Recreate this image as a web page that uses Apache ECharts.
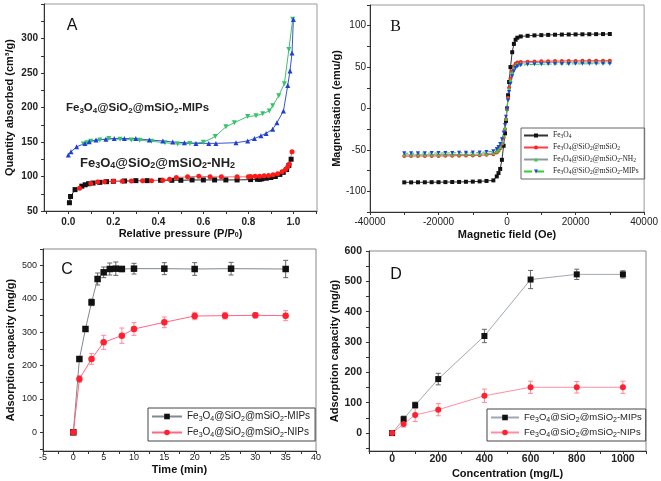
<!DOCTYPE html>
<html><head><meta charset="utf-8">
<script src="https://cdn.jsdelivr.net/npm/echarts@6/dist/echarts.min.js"></script>
<style>html,body{margin:0;padding:0;background:#fff}#c{width:661px;height:481px}</style>
</head><body><div id="c"></div><script>
// ---------------- Panel A: N2 adsorption–desorption ----------------
const aNH2Ads = [[0.005,62],[0.01,71],[0.03,81],[0.06,86],[0.075,88],[0.09,89.5],[0.11,90.5],[0.14,91.5],[0.17,92.5],[0.2,93],[0.25,93.5],[0.3,94],[0.35,94],[0.41,94.5],[0.46,94.5],[0.5,94.5],[0.55,95],[0.6,95],[0.65,95],[0.7,95],[0.75,95],[0.81,95.5],[0.84,96],[0.85,96],[0.86,96.5],[0.88,97.5],[0.9,98.5],[0.92,100],[0.94,103],[0.955,106],[0.97,110],[0.98,116],[0.99,125]];
const aNH2Des = [[0.05,83],[0.1,90],[0.13,92],[0.16,92.5],[0.2,93],[0.24,93],[0.28,93.5],[0.33,94],[0.37,94],[0.42,94.5],[0.45,96],[0.48,98.5],[0.53,99.5],[0.58,100.5],[0.63,99.5],[0.68,99.5],[0.75,99.5],[0.8,99.5],[0.81,100],[0.83,100.5],[0.85,100.5],[0.87,101],[0.89,101.5],[0.91,102.5],[0.93,104],[0.95,107],[0.965,110],[0.975,114],[0.982,118],[0.994,136]];
const aMIPsAds = [[0,131],[0.012,136],[0.037,143],[0.074,148],[0.093,150.5],[0.123,153],[0.167,154],[0.204,155],[0.249,155],[0.3,155],[0.36,153],[0.42,151.5],[0.464,150],[0.516,149],[0.567,148],[0.624,148],[0.656,148],[0.745,149],[0.797,151.5],[0.827,155],[0.856,159],[0.879,162.5],[0.908,168.5],[0.927,178],[0.956,195],[0.975,232],[0.985,253],[0.994,279],[1.0,327.5]];
const aMIPsDes = [[0.067,147],[0.083,149],[0.1,151],[0.14,153],[0.18,155],[0.23,154],[0.28,153],[0.317,152.5],[0.37,151],[0.43,149],[0.486,147],[0.54,148],[0.6,149.5],[0.653,158],[0.7,172],[0.738,178],[0.797,187],[0.834,188],[0.864,191],[0.893,195],[0.908,202.5],[0.935,217],[0.96,234.5],[0.98,284],[0.997,328]];
const aXTicks = [-0.1,0,0.1,0.2,0.3,0.4,0.5,0.6,0.7,0.8,0.9,1.0,1.1];
const aXLabels = [0,0.2,0.4,0.6,0.8,1.0];
const aYTicks = [50,75,100,125,150,175,200,225,250,275,300,325,350];
const aYLabels = [50,100,150,200,250,300];

// ---------------- Panel B: magnetic hysteresis ----------------
const bField = [-30000,-28000,-26000,-24000,-22000,-20000,-18000,-16000,-14000,-12000,-10000,-8000,-6000,-4000,
  -3000,-2500,-2000,-1500,-1000,-600,-300,0,300,600,1000,1500,2000,2500,3000,
  4000,6000,8000,10000,12000,14000,16000,18000,20000,22000,24000,26000,28000,30000];
const bFe3O4 = [-89.2,-89.2,-89.1,-89.1,-89,-89,-88.9,-88.8,-88.7,-88.5,-88.3,-88,-87.5,-86.8,
  -82,-78,-73,-62,-45,-30,-15,0,16,32,50,68,78,83,85.5,
  87,87.8,88.3,88.6,88.9,89.1,89.3,89.4,89.5,89.6,89.7,89.8,89.9,90];
const bMSiO2 = [-57.5,-57.5,-57.4,-57.4,-57.3,-57.3,-57.2,-57.1,-57,-56.9,-56.7,-56.5,-56,-55.2,
  -53,-51,-48,-43,-35,-25,-13,0,13,25,36,45,51,54,55.5,
  56.2,56.6,56.9,57.1,57.2,57.3,57.4,57.5,57.5,57.6,57.6,57.7,57.7,57.8];
const bNH2 = [-56,-56,-55.9,-55.9,-55.8,-55.8,-55.7,-55.6,-55.5,-55.4,-55.2,-55,-54.5,-53.7,
  -51.5,-49.5,-46.5,-41.5,-33.5,-24,-12.5,0,12.5,24,34.5,43.5,49.5,52.5,54,
  54.7,55.1,55.4,55.6,55.7,55.8,55.9,56,56,56.1,56.1,56.2,56.2,56.3];
const bMIPs = [-54,-54,-53.9,-53.9,-53.8,-53.8,-53.7,-53.6,-53.5,-53.4,-53.2,-53,-52.5,-51.5,
  -49,-46.5,-43,-37,-29,-20,-10,0,10,20,30,39,45,49,51,
  52.3,53,53.3,53.5,53.6,53.7,53.8,53.8,53.9,53.9,54,54,54,54.1];
const bXTicks = [-40000,-30000,-20000,-10000,0,10000,20000,30000,40000];
const bXLabels = [-40000,-20000,0,20000,40000];
const bYTicks = [-125,-100,-75,-50,-25,0,25,50,75,100,125];
const bYLabels = [-100,-50,0,50,100];

// ---------------- Panel C: adsorption kinetics ----------------
const cTimeMIPs = [0,1,2,3,4,5,6,7,8,10,15,20,26,35];
const cMIPs     = [0,220,310,390,460,480,490,491,490,491,491,490,491,490];
const cMIPsErr  = [0,7,7,10,18,16,18,20,8,16,18,19,19,26];
const cTimeNIPs = [0,1,3,5,8,10,15,20,25,30,35];
const cNIPs     = [0,160,220,270,290,310,330,349,350,351,350];
const cNIPsErr  = [0,10,16,21,23,19,16,11,10,8,15];
const cXTicks = [-5,-2.5,0,2.5,5,7.5,10,12.5,15,17.5,20,22.5,25,27.5,30,32.5,35,37.5,40];
const cXLabels = [-5,0,5,10,15,20,25,30,35,40];
const cYTicks = [-50,0,50,100,150,200,250,300,350,400,450,500,550];
const cYLabels = [0,100,200,300,400,500];

// ---------------- Panel D: adsorption isotherm ----------------
const dConc     = [0,50,100,200,400,600,800,1000];
const dMIPs     = [0,46,92,178,320,506,523,523];
const dMIPsErr  = [0,10,10,19,22,30,17,12];
const dNIPs     = [0,30,60,77,123,151,151,151];
const dNIPsErr  = [0,10,22,20,22,20,19,20];
const dXTicks = [-100,0,100,200,300,400,500,600,700,800,900,1000,1100];
const dXLabels = [0,200,400,600,800,1000];
const dYTicks = [-50,0,50,100,150,200,250,300,350,400,450,500,550,600];
const dYLabels = [0,100,200,300,400,500,600];

// ---------------- helpers ----------------
const SANS = '"Liberation Sans", Arial, sans-serif';
const SERIF = '"Liberation Serif", "Times New Roman", serif';
const sub = s => s.replace(/([A-Za-z])(\d)/g, '$1{s|$2}');
const zip = (xs, ys) => xs.map((x, i) => [x, ys[i]]);
const errData = (xs, ys, es) => xs.map((x, i) => [x, ys[i] - es[i], ys[i] + es[i]]);
const plain = v => String(v);

function axis(gi, min, max, ticks, labels, name, o) {
  return {
    type: 'value', gridIndex: gi, min: min, max: max, name: name,
    nameLocation: 'middle', nameGap: o.gap,
    nameTextStyle: {fontFamily: SANS, fontSize: 11, fontWeight: 'bold', color: '#111',
      rich: {s: {fontFamily: SANS, fontSize: 7, fontWeight: 'bold', color: '#111', verticalAlign: 'bottom', lineHeight: 8}}},
    axisLine: {show: true, onZero: false, lineStyle: {color: '#333', width: 1}},
    axisTick: {show: true, inside: false, length: 3, customValues: ticks, lineStyle: {color: '#333'}},
    axisLabel: {show: true, customValues: labels, margin: o.margin, fontFamily: SANS,
      fontSize: o.fs, fontWeight: o.fw, color: '#222', formatter: o.fmt || plain},
    splitLine: {show: false}
  };
}
function errSeries(xi, data, color, w) {
  return {
    type: 'custom', xAxisIndex: xi, yAxisIndex: xi, data: data, z: 1, silent: true,
    encode: {x: 0, y: [1, 2]},
    renderItem: function (params, api) {
      const x = api.value(0);
      const p1 = api.coord([x, api.value(2)]);
      const p2 = api.coord([x, api.value(1)]);
      const st = {stroke: color, lineWidth: 1};
      return {type: 'group', children: [
        {type: 'line', shape: {x1: p1[0], y1: p1[1], x2: p2[0], y2: p2[1]}, style: st},
        {type: 'line', shape: {x1: p1[0] - w, y1: p1[1], x2: p1[0] + w, y2: p1[1]}, style: st},
        {type: 'line', shape: {x1: p2[0] - w, y1: p2[1], x2: p2[0] + w, y2: p2[1]}, style: st}
      ]};
    }
  };
}
function line(xi, name, data, o) {
  return {
    type: 'line', name: name, xAxisIndex: xi, yAxisIndex: xi, data: data, z: 3,
    symbol: o.symbol, symbolSize: o.size, symbolRotate: o.rot || 0, showSymbol: true,
    itemStyle: {color: o.mc}, lineStyle: {color: o.lc, width: o.lw || 1, type: o.dash ? 'dashed' : 'solid'},
    emphasis: {disabled: true}
  };
}

const names = {
  cM: 'Fe3O4@SiO2@mSiO2-MIPs', cN: 'Fe3O4@SiO2@mSiO2-NIPs',
  dM: 'Fe3O4@SiO2@mSiO2-MIPs', dN: 'Fe3O4@SiO2@mSiO2-NIPs'
};

const chart = echarts.init(document.getElementById('c'), null, {renderer: 'canvas'});
chart.setOption({
  animation: false,
  backgroundColor: '#fff',
  grid: [
    {left: 44, top: 4, width: 273, height: 207, show: true, borderColor: '#999', borderWidth: 1},
    {left: 370, top: 5, width: 276, height: 207, show: true, borderColor: '#999', borderWidth: 1},
    {left: 43, top: 249, width: 273, height: 202, show: true, borderColor: '#888', borderWidth: 1},
    {left: 369, top: 251, width: 277, height: 200, show: true, borderColor: '#888', borderWidth: 1}
  ],
  xAxis: [
    axis(0, -0.108, 1.105, aXTicks, aXLabels, 'Relative pressure (P/P{s|0})', {gap: 17, margin: 6, fs: 10, fw: 'bold', fmt: v => v.toFixed(1)}),
    axis(1, -40000, 40000, bXTicks, bXLabels, 'Magnetic field (Oe)', {gap: 17, margin: 5, fs: 10, fw: 'normal'}),
    axis(2, -5, 40, cXTicks, cXLabels, 'Time (min)', {gap: 13, margin: 2, fs: 9, fw: 'normal'}),
    axis(3, -100, 1100, dXTicks, dXLabels, 'Concentration (mg/L)', {gap: 17, margin: 3, fs: 10.5, fw: 'bold'})
  ],
  yAxis: [
    axis(0, 50, 350, aYTicks, aYLabels, 'Quantity absorbed (cm³/g)', {gap: 29, margin: 6, fs: 10, fw: 'bold'}),
    axis(1, -125, 125, bYTicks, bYLabels, 'Magnetisation (emu/g)', {gap: 27, margin: 4, fs: 10, fw: 'normal'}),
    axis(2, -56, 550, cYTicks, cYLabels, 'Adsorption capacity (mg/g)', {gap: 27, margin: 6, fs: 9, fw: 'normal'}),
    axis(3, -59, 600, dYTicks, dYLabels, 'Adsorption capacity (mg/g)', {gap: 26, margin: 7, fs: 10.5, fw: 'bold'})
  ],
  legend: [
    {
      show: true, left: 521, top: 128, orient: 'vertical', itemWidth: 24, itemHeight: 5, itemGap: 3,
      padding: [3, 6, 3, 2], borderColor: '#666', borderWidth: 1,
      data: ['Fe3O4', 'Fe3O4@SiO2@mSiO2', 'Fe3O4@SiO2@mSiO2-NH2', 'Fe3O4@SiO2@mSiO2-MIPs'],
      formatter: n => sub(n),
      textStyle: {fontFamily: SERIF, fontSize: 7.5, color: '#222', lineHeight: 9,
        rich: {s: {fontFamily: SERIF, fontSize: 5.5, color: '#222', verticalAlign: 'bottom', lineHeight: 6}}}
    },
    {
      show: true, left: 148, top: 408, orient: 'vertical', itemWidth: 30, itemHeight: 7, itemGap: 3,
      padding: [2, 5, 2, 3], borderColor: '#444', borderWidth: 1,
      data: ['cM', 'cN'], formatter: n => sub(names[n]),
      textStyle: {fontFamily: SANS, fontSize: 10, color: '#222', lineHeight: 13,
        rich: {s: {fontFamily: SANS, fontSize: 7, color: '#222', verticalAlign: 'bottom', lineHeight: 8}}}
    },
    {
      show: true, left: 487, top: 409, orient: 'vertical', itemWidth: 28, itemHeight: 7, itemGap: 2,
      padding: [2, 4, 2, 3], borderColor: '#444', borderWidth: 1,
      data: ['dM', 'dN'], formatter: n => sub(names[n]),
      textStyle: {fontFamily: SANS, fontSize: 9.5, color: '#222', lineHeight: 13,
        rich: {s: {fontFamily: SANS, fontSize: 7, color: '#222', verticalAlign: 'bottom', lineHeight: 8}}}
    }
  ],
  graphic: [
    {type: 'text', x: 72, y: 25.5, style: {text: 'A', font: '16px ' + SANS, fill: '#111', align: 'center', verticalAlign: 'middle'}},
    {type: 'text', x: 395.5, y: 26.5, style: {text: 'B', font: '16px ' + SERIF, fill: '#111', align: 'center', verticalAlign: 'middle'}},
    {type: 'text', x: 67, y: 270, style: {text: 'C', font: '16px ' + SANS, fill: '#111', align: 'center', verticalAlign: 'middle'}},
    {type: 'text', x: 396, y: 274.5, style: {text: 'D', font: '16px ' + SANS, fill: '#111', align: 'center', verticalAlign: 'middle'}},
    {type: 'text', x: 66, y: 108, style: {text: sub('Fe3O4@SiO2@mSiO2-MIPs'), font: 'bold 11.5px ' + SANS, fill: '#222',
      align: 'left', verticalAlign: 'middle', lineHeight: 14,
      rich: {s: {font: 'bold 8px ' + SANS, fontSize: 8, fontWeight: 'bold', fontFamily: SANS, fill: '#222', verticalAlign: 'bottom', lineHeight: 8}}}},
    {type: 'text', x: 80, y: 163, style: {text: sub('Fe3O4@SiO2@mSiO2-NH2'), font: 'bold 13px ' + SANS, fill: '#222',
      align: 'left', verticalAlign: 'middle', lineHeight: 15,
      rich: {s: {font: 'bold 9px ' + SANS, fontSize: 9, fontWeight: 'bold', fontFamily: SANS, fill: '#222', verticalAlign: 'bottom', lineHeight: 9}}}}
  ],
  series: [
    // A
    line(0, 'A-NH2-ads', aNH2Ads, {symbol: 'rect', size: 5, mc: '#111', lc: '#222'}),
    line(0, 'A-NH2-des', aNH2Des, {symbol: 'circle', size: 5, mc: '#ff1a1a', lc: '#ff6070'}),
    line(0, 'A-MIPs-des', aMIPsDes, {symbol: 'triangle', rot: 180, size: 5, mc: '#33c46a', lc: '#40c070'}),
    line(0, 'A-MIPs-ads', aMIPsAds, {symbol: 'triangle', size: 5, mc: '#1f3fd6', lc: '#3a55d0'}),
    // B
    line(1, 'Fe3O4', zip(bField, bFe3O4), {symbol: 'rect', size: 4, mc: '#111', lc: '#333'}),
    line(1, 'Fe3O4@SiO2@mSiO2', zip(bField, bMSiO2), {symbol: 'circle', size: 4, mc: '#ff2020', lc: '#ff4040'}),
    line(1, 'Fe3O4@SiO2@mSiO2-NH2', zip(bField, bNH2), {symbol: 'triangle', size: 4, mc: '#3ad040', lc: '#8a9aa0'}),
    line(1, 'Fe3O4@SiO2@mSiO2-MIPs', zip(bField, bMIPs), {symbol: 'triangle', rot: 180, size: 4, mc: '#2040e0', lc: '#30d030', dash: true}),
    // C
    errSeries(2, errData(cTimeMIPs, cMIPs, cMIPsErr), '#666', 2.5),
    errSeries(2, errData(cTimeNIPs, cNIPs, cNIPsErr), '#ff8899', 2.5),
    line(2, 'cM', zip(cTimeMIPs, cMIPs), {symbol: 'rect', size: 6.5, mc: '#111', lc: '#808890'}),
    line(2, 'cN', zip(cTimeNIPs, cNIPs), {symbol: 'circle', size: 6.5, mc: '#ff2030', lc: '#ff6680'}),
    // D
    errSeries(3, errData(dConc, dMIPs, dMIPsErr), '#666', 2.5),
    errSeries(3, errData(dConc, dNIPs, dNIPsErr), '#ff8899', 2.5),
    line(3, 'dM', zip(dConc, dMIPs), {symbol: 'rect', size: 6, mc: '#111', lc: '#a0a8b0'}),
    line(3, 'dN', zip(dConc, dNIPs), {symbol: 'circle', size: 6, mc: '#ff2030', lc: '#ff8fa0'})
  ]
});
</script></body></html>
